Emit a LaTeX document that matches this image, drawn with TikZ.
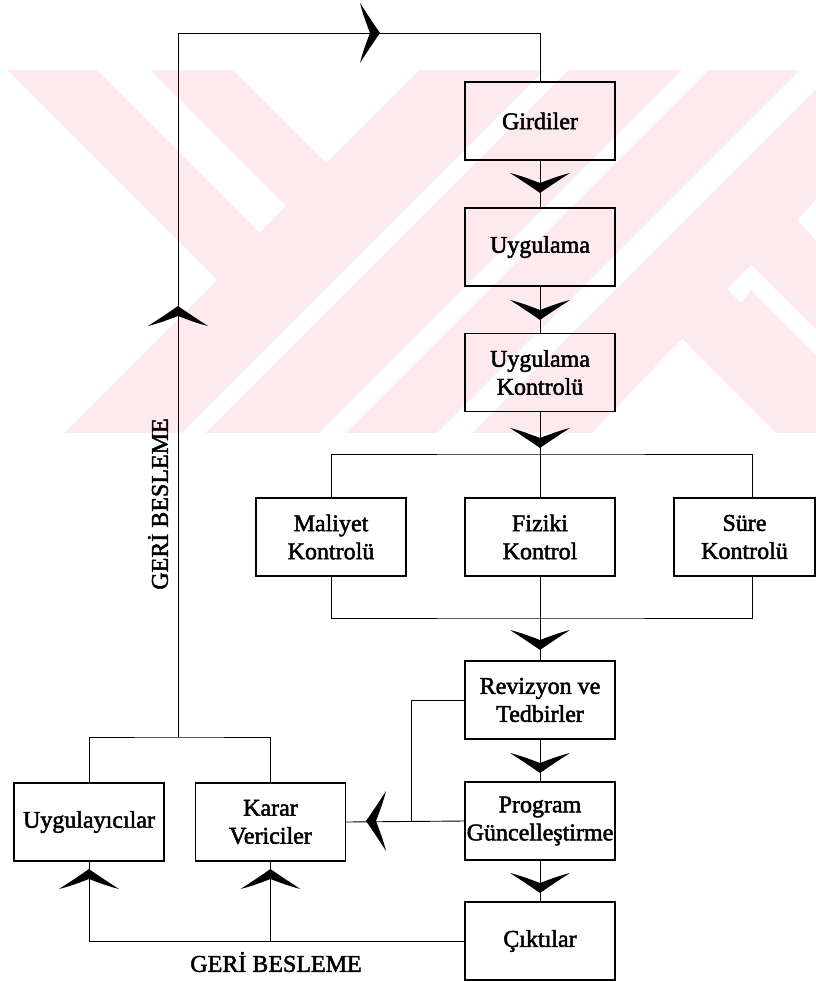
\documentclass[tikz,border=0pt]{standalone}
\usepackage{fontspec}
\setmainfont{Liberation Serif}
\font\scanf="Liberation Serif:embolden=2" at 24pt
\newcommand\boxfont{\scanf\baselineskip=28pt\relax}
\definecolor{wmpink}{RGB}{253,234,238}

\begin{document}
\begin{tikzpicture}[x=1pt,y=-1pt,
  box/.style={draw,line width=1.1pt,minimum width=150pt,minimum height=78pt,
    inner sep=0pt,align=center,font=\boxfont},
  link/.style={line width=0.9pt},
  lbl/.style={font=\boxfont,inner sep=0pt},
  chev/.pic={
    \fill (0,0) .. controls (-7,-10) and (-13,-19) .. (-20,-30)
      .. controls (-17,-18) and (-13,-8) .. (-10,0)
      .. controls (-13,8) and (-17,18) .. (-20,30)
      .. controls (-13,19) and (-7,10) .. (0,0) -- cycle;
  }]
\useasboundingbox (0,0) rectangle (816,982);

% faint background emblem
\fill[wmpink] (0,70) rectangle (816,433);
\fill[white] (0,70) -- (7,70) -- (217,280) -- (64,433) -- (0,433) -- cycle;
\fill[white] (97,70) -- (150,70) -- (286,206) -- (259.5,232.5) -- cycle;
\fill[white] (233,70) -- (419,70) -- (326,163) -- cycle;
\fill[white] (545,70) -- (568,70) -- (205,433) -- (182,433) -- cycle;
\fill[white] (682,70) -- (708,70) -- (345,433) -- (319,433) -- cycle;
\fill[white] (800,70) -- (835,70) -- (472,433) -- (437,433) -- cycle;
\fill[white] (727,289) -- (751,265) -- (816,330) -- (816,355) -- (751,290) -- (741,303) -- cycle;
\fill[white] (682,339) -- (776,433) -- (592,433) -- cycle;
\fill[white] (816,200) -- (797,220) -- (816,240) -- cycle;

% main column
\node[box] (gir)  at (540,121)   {Girdiler};
\node[box] (uyg)  at (540,247)   {Uygulama};
\node[box] (kon)  at (540,372.5) {Uygulama\\Kontrolü};
\node[box] (mal)  at (331,537)   {Maliyet\\Kontrolü};
\node[box] (fiz)  at (540,537)   {Fiziki\\Kontrol};
\node[box,minimum width=141pt] (sure) at (744.5,537) {Süre\\Kontrolü};
\node[box] (rev)  at (540,700)   {Revizyon ve\\Tedbirler};
\node[box] (prog) at (540,821)   {Program\\Güncelleştirme};
\node[box] (cik)  at (540,941)   {Çıktılar};
\node[box] (app)  at (89,822)    {Uygulayıcılar};
\node[box] (kar)  at (270.5,822) {Karar\\Vericiler};

% connectors
\coordinate (jl) at (178,737);
\coordinate (tl) at (178,33);
\coordinate (bt) at (540,454);
\coordinate (bb) at (540,618);
\coordinate (sj) at (411,821);
\draw[link] (jl) -- (tl) -| (gir.north);
\draw[link] (gir.south) -- (uyg.north);
\draw[link] (uyg.south) -- (kon.north);
\draw[link] (kon.south) -- (fiz.north);
\draw[link] (mal.north) |- (bt) -| ([xshift=7.5pt]sure.north);
\draw[link] (mal.south) |- (bb) -| ([xshift=7.5pt]sure.south);
\draw[link] (fiz.south) -- (rev.north);
\draw[link] (rev.south) -- (prog.north);
\draw[link] (prog.south) -- (cik.north);
\draw[link] (rev.west) -| (sj);
\draw[link] (prog.west) -- (kar.east);
\draw[link] (app.north) |- (jl) -| (kar.north);
\draw[link] (cik.west) -| (app.south);
\draw[link] (kar.south) -- (kar.south |- cik.west);

% arrowheads
\pic[rotate=-90] at (540,193) {chev};
\pic[rotate=-90] at (540,320) {chev};
\pic[rotate=-90] at (540,448) {chev};
\pic[rotate=-90] at (540,650) {chev};
\pic[rotate=-90] at (540,773) {chev};
\pic[rotate=-90] at (540,893) {chev};
\pic at (380,33) {chev};
\pic[rotate=90] at (178,306) {chev};
\pic[rotate=90] at (89,869) {chev};
\pic[rotate=90] at (270.5,869) {chev};
\pic[rotate=180] at (366,821) {chev};

% feedback labels
\node[lbl,rotate=90] (fbv) at (158,504) {GERİ BESLEME};
\node[lbl] (fbh) at (276,962) {GERİ BESLEME};
\end{tikzpicture}
\end{document}
